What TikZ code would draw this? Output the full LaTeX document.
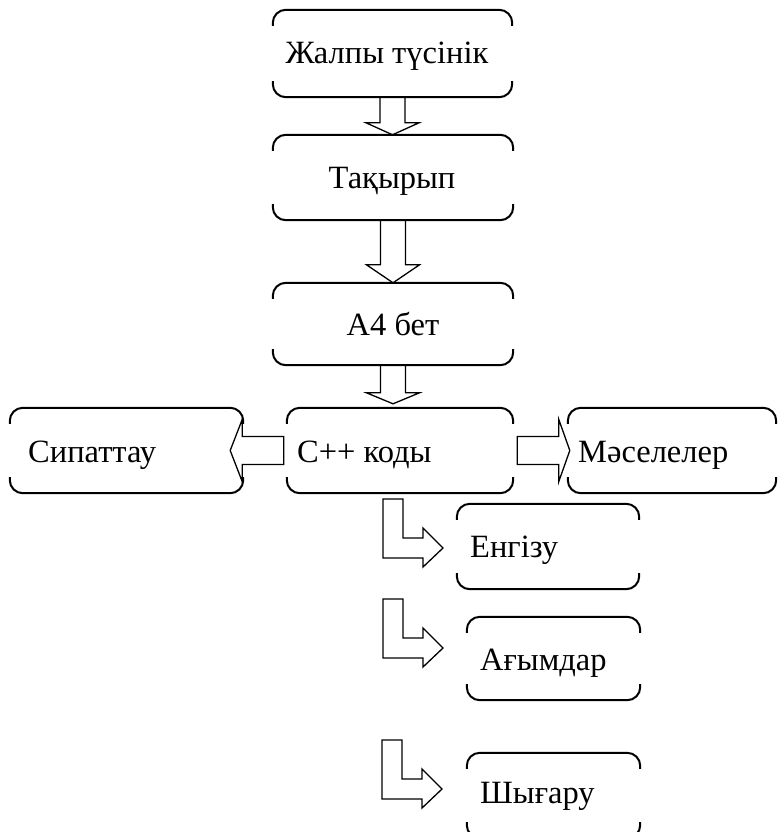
\documentclass[tikz,border=0pt]{standalone}
\usepackage{fontspec}
\setmainfont{Liberation Serif}
\usetikzlibrary{calc}
\tikzset{
  box/.style={draw=none, rectangle, inner sep=0pt},
  bline/.style={line width=2pt, rounded corners=13pt},
  barr/.style={line width=1.3pt, line join=miter},
  lbl/.style={font=\fontsize{32.5}{38}\selectfont, inner sep=0pt, anchor=base},
  lblw/.style={lbl, anchor=base west},
}
\newcommand\brbox[1]{%
  \draw[bline] ([yshift=-16pt]#1.north west) |- (#1.north) -| ([yshift=-16pt]#1.north east);
  \draw[bline] ([yshift=16pt]#1.south west) |- (#1.south) -| ([yshift=16pt]#1.south east);}
% down block arrow: #1 start coord, #2 tip coord, #3 head length
\newcommand\darr[3]{%
  \draw[barr] ($(#1)+(-12.5,0)$) -- ($(#2)+(-12.5,-#3)$) -- ($(#2)+(-26.5,-#3)$) -- (#2)
    -- ($(#2)+(26.5,-#3)$) -- ($(#2)+(12.5,-#3)$) -- ($(#1)+(12.5,0)$);}
% bent block arrow ending at tip #1
\newcommand\barrow[1]{%
  \draw[barr] ($(#1)+(-60,-49)$) -- ($(#1)+(-40,-49)$) -- ($(#1)+(-40,-10)$) -- ($(#1)+(-20,-10)$)
    -- ($(#1)+(-20,-20)$) -- (#1) -- ($(#1)+(-20,19)$) -- ($(#1)+(-20,10)$) -- ($(#1)+(-60,10)$) -- cycle;}
\begin{document}
\begin{tikzpicture}[x=1pt, y=-1pt]
\useasboundingbox (0,0) rectangle (778,832);
\clip (0,0) rectangle (778,832);
% boxes
\node[box, minimum width=239pt, minimum height=87pt] (b1) at (392.5,53.5) {};
\node[box, minimum width=240pt, minimum height=85pt] (b2) at (393,177.5) {};
\node[box, minimum width=240pt, minimum height=82pt] (b3) at (393,324) {};
\node[box, minimum width=226pt, minimum height=85pt] (b4) at (400,450.5) {};
\node[box, minimum width=233pt, minimum height=85pt] (b5) at (126.5,450.5) {};
\node[box, minimum width=208pt, minimum height=85pt] (b6) at (672,450.5) {};
\node[box, minimum width=182pt, minimum height=85pt] (b7) at (548,546.5) {};
\node[box, minimum width=173pt, minimum height=83pt] (b8) at (553.5,658.5) {};
\node[box, minimum width=173pt, minimum height=85pt] (b9) at (553.5,795.5) {};
\brbox{b1}\brbox{b2}\brbox{b3}\brbox{b4}\brbox{b5}\brbox{b6}\brbox{b7}\brbox{b8}\brbox{b9}
% texts
\node[lbl] (t1) at (387,64) {Жалпы түсінік};
\node[lbl] (t2) at (392,188) {Тақырып};
\node[lbl] (t3) at (393,335) {А4 бет};
\node[lblw] (t4) at (297,462) {C++ коды};
\node[lblw] (t5) at (28,462) {Сипаттау};
\node[lblw] (t6) at (578,462) {Мәселелер};
\node[lblw] (t7) at (470,557) {Енгізу};
\node[lblw] (t8) at (480,670) {Ағымдар};
\node[lblw] (t9) at (480,803) {Шығару};
% down arrows
\coordinate (a1s) at (b1.south);
\coordinate (a1e) at (b1.south |- b2.north);
\coordinate (a2s) at (b2.south);
\coordinate (a2e) at (b2.south |- b3.north);
\coordinate (a3s) at (b3.south);
\coordinate (a3e) at ($(b3.south |- b4.north)+(0,-4)$);
\darr{a1s}{a1e}{12}
\darr{a2s}{a2e}{18}
\darr{a3s}{a3e}{11}
% right arrow
\draw[barr] ($(b4.east)+(4,-14)$) -- ($(b6.west)+(-9,-14)$) -- ($(b6.west)+(-9,-31)$) -- ($(b6.west)+(2,0)$)
  -- ($(b6.west)+(-9,31)$) -- ($(b6.west)+(-9,14)$) -- ($(b4.east)+(4,14)$) -- cycle;
% left arrow
\draw[barr] ($(b4.west)+(-3,-14)$) -- ($(b5.east)+(-1,-14)$) -- ($(b5.east)+(-1,-31)$) -- ($(b5.east)+(-13,0)$)
  -- ($(b5.east)+(-1,31)$) -- ($(b5.east)+(-1,14)$) -- ($(b4.west)+(-3,14)$) -- cycle;
% bent arrows
\coordinate (k1) at (443,548);
\coordinate (k2) at (443,648);
\coordinate (k3) at (442,789);
\barrow{k1}\barrow{k2}\barrow{k3}
\end{tikzpicture}
\end{document}
